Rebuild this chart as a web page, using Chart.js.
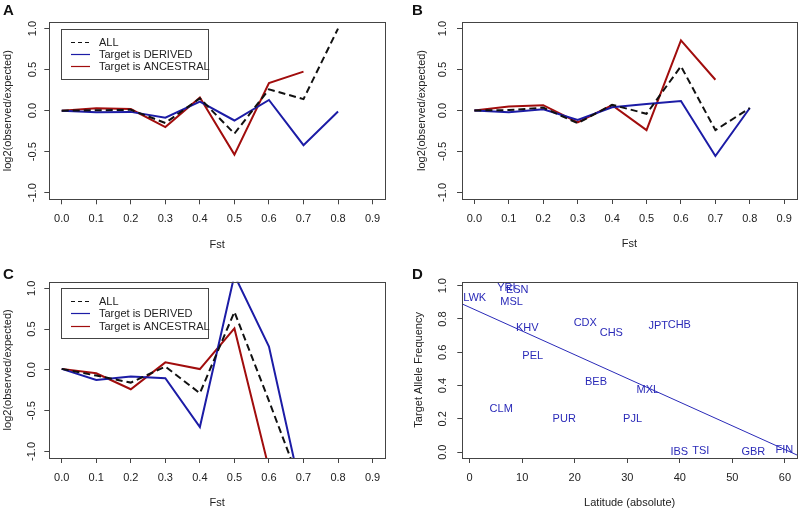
<!DOCTYPE html>
<html lang="en">
<head>
<meta charset="UTF-8">
<title>Fst enrichment and latitude</title>
<script src="https://cdn.jsdelivr.net/npm/chart.js"></script>
<style>
  body, html { margin: 0; padding: 0; background: #fff; }
  #wrap { position: relative; width: 800px; height: 510px; }
  .panel { position: absolute; width: 400px; height: 255px; }
  .tag { position: absolute; font: bold 15px 'Liberation Sans', Arial, sans-serif; line-height: 15px; color: #111; }
</style>
</head>
<body>
<div id="wrap">
  <canvas id="chartA" class="panel" width="400" height="255" style="left:0;top:0"></canvas>
  <canvas id="chartB" class="panel" width="400" height="255" style="left:400px;top:0"></canvas>
  <canvas id="chartC" class="panel" width="400" height="255" style="left:0;top:255px"></canvas>
  <canvas id="chartD" class="panel" width="400" height="255" style="left:400px;top:255px"></canvas>
  <div class="tag" style="left:3px;top:2px">A</div>
  <div class="tag" style="left:412px;top:2px">B</div>
  <div class="tag" style="left:3px;top:266px">C</div>
  <div class="tag" style="left:412px;top:266px">D</div>
</div>
<script>
// Fst bins and the three series for panels A-C
const fst = [0.0, 0.1, 0.2, 0.3, 0.4, 0.5, 0.6, 0.7, 0.8];
const fstTicks = [0.0, 0.1, 0.2, 0.3, 0.4, 0.5, 0.6, 0.7, 0.8, 0.9];
const ratioTicks = [-1.0, -0.5, 0.0, 0.5, 1.0];
const seriesNames = ['ALL', 'Target is DERIVED', 'Target is ANCESTRAL'];

const allA = [0, 0.005, 0.01, -0.15, 0.15, -0.28, 0.26, 0.14, 1.0];
const derivedA = [0, -0.02, -0.015, -0.085, 0.11, -0.12, 0.13, -0.42, -0.01];
const ancestralA = [0, 0.03, 0.02, -0.2, 0.16, -0.535, 0.335, 0.475, null];

const allB = [0, 0.005, 0.035, -0.155, 0.07, -0.04, 0.54, -0.24, 0.03];
const derivedB = [0, -0.02, 0.015, -0.115, 0.04, 0.08, 0.115, -0.555, 0.03];
const ancestralB = [0, 0.05, 0.065, -0.145, 0.065, -0.24, 0.855, 0.375, null];

const allC = [0.012, -0.07, -0.156, 0.04, -0.286, 0.71, -0.38, -1.5, null];
const derivedC = [0.012, -0.124, -0.083, -0.103, -0.70, 1.16, 0.285, -1.62, null];
const ancestralC = [0.012, -0.042, -0.238, 0.092, 0.01, 0.507, -1.21, null, null];

// panel D: populations by absolute latitude
const popNames = ['LWK', 'YRI', 'ESN', 'MSL', 'KHV', 'CDX', 'CHS', 'JPT', 'CHB', 'PEL',
                  'BEB', 'MXL', 'CLM', 'PUR', 'PJL', 'IBS', 'TSI', 'GBR', 'FIN'];
const popLatitude = [0.95, 7.0, 9.05, 7.97, 10.95, 22.0, 26.96, 35.9, 39.9, 12.0,
                     24.05, 33.9, 6.0, 18.0, 31.0, 39.9, 44.0, 54.0, 59.9];
const popFrequency = [0.924, 0.984, 0.974, 0.904, 0.744, 0.778, 0.718, 0.758, 0.764, 0.578,
                      0.422, 0.374, 0.258, 0.2, 0.198, 0.003, 0.007, 0.0, 0.013];
const latTicks = [0, 10, 20, 30, 40, 50, 60];
const freqTicks = [0.0, 0.2, 0.4, 0.6, 0.8, 1.0];
const fitLatitude = [-1.4, 62.3];
const fitFrequency = [0.89, -0.017];

const FONT = "'Liberation Sans', Arial, Helvetica, sans-serif";
const INK = '#222';
const BLUE_LINE = '#1c1ca6';
const RED_LINE = '#a10d0d';
const D_BLUE = '#2a2ab8';

Chart.defaults.font.family = FONT;
Chart.defaults.font.size = 11;
Chart.defaults.color = INK;

function points(xs, ys) {
  return xs.map((x, i) => ({ x: x, y: ys[i] }));
}

// R-style frame round the plot region
const plotBox = {
  id: 'plotBox',
  afterDraw(chart) {
    const a = chart.chartArea;
    const ctx = chart.ctx;
    ctx.save();
    ctx.strokeStyle = '#444';
    ctx.lineWidth = 1;
    const l = Math.round(a.left) + 0.5, t = Math.round(a.top) + 0.5;
    ctx.strokeRect(l, t, Math.round(a.right) - Math.round(a.left), Math.round(a.bottom) - Math.round(a.top));
    ctx.restore();
  }
};

// boxed legend inside the plot, like R's legend()
const rLegend = {
  id: 'rLegend',
  afterDraw(chart, args, opts) {
    if (!opts || !opts.box) return;
    const ctx = chart.ctx;
    const [x, y, w, h] = opts.box;
    ctx.save();
    ctx.fillStyle = '#fff';
    ctx.fillRect(x, y, w, h);
    ctx.strokeStyle = '#444';
    ctx.lineWidth = 1;
    ctx.strokeRect(x + 0.5, y + 0.5, w, h);
    ctx.font = '11px ' + FONT;
    ctx.textBaseline = 'middle';
    chart.data.datasets.forEach((ds, i) => {
      const ry = Math.round(y + opts.firstRow + i * opts.rowGap) + 0.5;
      ctx.beginPath();
      ctx.setLineDash(ds.borderDash ? [4, 3] : []);
      ctx.strokeStyle = ds.borderColor;
      ctx.lineWidth = 1.2;
      ctx.moveTo(x + 10, ry);
      ctx.lineTo(x + 29, ry);
      ctx.stroke();
      ctx.setLineDash([]);
      ctx.fillStyle = INK;
      ctx.fillText(ds.label, x + 38, ry);
    });
    ctx.restore();
  }
};

// population codes written at their points
const popLabels = {
  id: 'popLabels',
  afterDatasetsDraw(chart) {
    const ctx = chart.ctx;
    const meta = chart.getDatasetMeta(0);
    ctx.save();
    ctx.font = '11px ' + FONT;
    ctx.fillStyle = D_BLUE;
    ctx.textAlign = 'center';
    ctx.textBaseline = 'middle';
    meta.data.forEach((pt, i) => {
      ctx.fillText(popNames[i], pt.x, pt.y);
    });
    ctx.restore();
  }
};

function xAxis(min, max, ticks, title, digits) {
  return {
    type: 'linear', min: min, max: max,
    afterBuildTicks: s => { s.ticks = ticks.map(v => ({ value: v })); },
    ticks: { callback: v => v.toFixed(digits), padding: 8, autoSkip: false, maxRotation: 0, color: INK },
    grid: { drawOnChartArea: false, tickLength: 5, color: '#444' },
    border: { display: false },
    title: { display: true, text: title, color: INK, padding: { top: 0, bottom: 0 } },
    afterFit: s => { s.height = 52; }
  };
}

function yAxis(min, max, ticks, title, g) {
  return {
    type: 'linear', min: min, max: max,
    afterBuildTicks: s => { s.ticks = ticks.map(v => ({ value: v })); },
    ticks: { callback: v => v.toFixed(1), padding: g.tickPad, minRotation: 90, maxRotation: 90,
             crossAlign: 'center', autoSkip: false, color: INK },
    grid: { drawOnChartArea: false, tickLength: 5, color: '#444' },
    border: { display: false },
    title: { display: true, text: title, color: INK, padding: { top: g.titlePad, bottom: 0 } },
    afterFit: s => { s.width = g.left; }
  };
}

function linePanel(id, all, derived, ancestral, g) {
  return new Chart(document.getElementById(id), {
    type: 'line',
    data: {
      datasets: [
        { label: seriesNames[0], data: points(fst, all), borderColor: '#111', borderDash: [7, 4], borderWidth: 2 },
        { label: seriesNames[1], data: points(fst, derived), borderColor: BLUE_LINE, borderWidth: 2 },
        { label: seriesNames[2], data: points(fst, ancestral), borderColor: RED_LINE, borderWidth: 2 }
      ]
    },
    options: {
      responsive: false,
      animation: false,
      events: [],
      clip: 0,
      layout: { padding: { left: 0, top: g.top, right: 400 - g.right, bottom: 255 - g.bottom - 52 } },
      elements: { point: { radius: 0 }, line: { tension: 0, fill: false } },
      plugins: {
        legend: { display: false },
        tooltip: { enabled: false },
        rLegend: g.legend || {}
      },
      scales: {
        x: xAxis(-0.036, 0.936, fstTicks, 'Fst', 1),
        y: yAxis(-1.08, 1.08, ratioTicks, 'log2(observed/expected)', g)
      }
    },
    plugins: [plotBox, rLegend]
  });
}

linePanel('chartA', allA, derivedA, ancestralA, {
  left: 49.3, right: 385, top: 22, bottom: 199.3, tickPad: 2.3, titlePad: 0.9,
  legend: { box: [61, 29, 147, 50], firstRow: 13.3, rowGap: 12 }
});
linePanel('chartB', allB, derivedB, ancestralB, {
  left: 62, right: 397, top: 22, bottom: 199, tickPad: 4.2, titlePad: 15.1
});
linePanel('chartC', allC, derivedC, ancestralC, {
  left: 49.3, right: 385, top: 26.7, bottom: 203, tickPad: 2.8, titlePad: 1.1,
  legend: { box: [61, 33, 147, 50], firstRow: 13, rowGap: 12.3 }
});

new Chart(document.getElementById('chartD'), {
  type: 'scatter',
  data: {
    datasets: [
      { label: 'populations', data: points(popLatitude, popFrequency), pointRadius: 0 },
      { type: 'line', label: 'fit', data: points(fitLatitude, fitFrequency), borderColor: D_BLUE,
        borderWidth: 1, pointRadius: 0, tension: 0, fill: false }
    ]
  },
  options: {
    responsive: false,
    animation: false,
    events: [],
    clip: 0,
    layout: { padding: { left: 0, top: 26.7, right: 3, bottom: 0 } },
    plugins: { legend: { display: false }, tooltip: { enabled: false } },
    scales: {
      x: xAxis(-1.4, 62.3, latTicks, 'Latitude (absolute)', 0),
      y: yAxis(-0.035, 1.024, freqTicks, 'Target Allele Frequency', { left: 62.3, tickPad: 6.3, titlePad: 12.1 })
    }
  },
  plugins: [plotBox, popLabels]
});
</script>
</body>
</html>
